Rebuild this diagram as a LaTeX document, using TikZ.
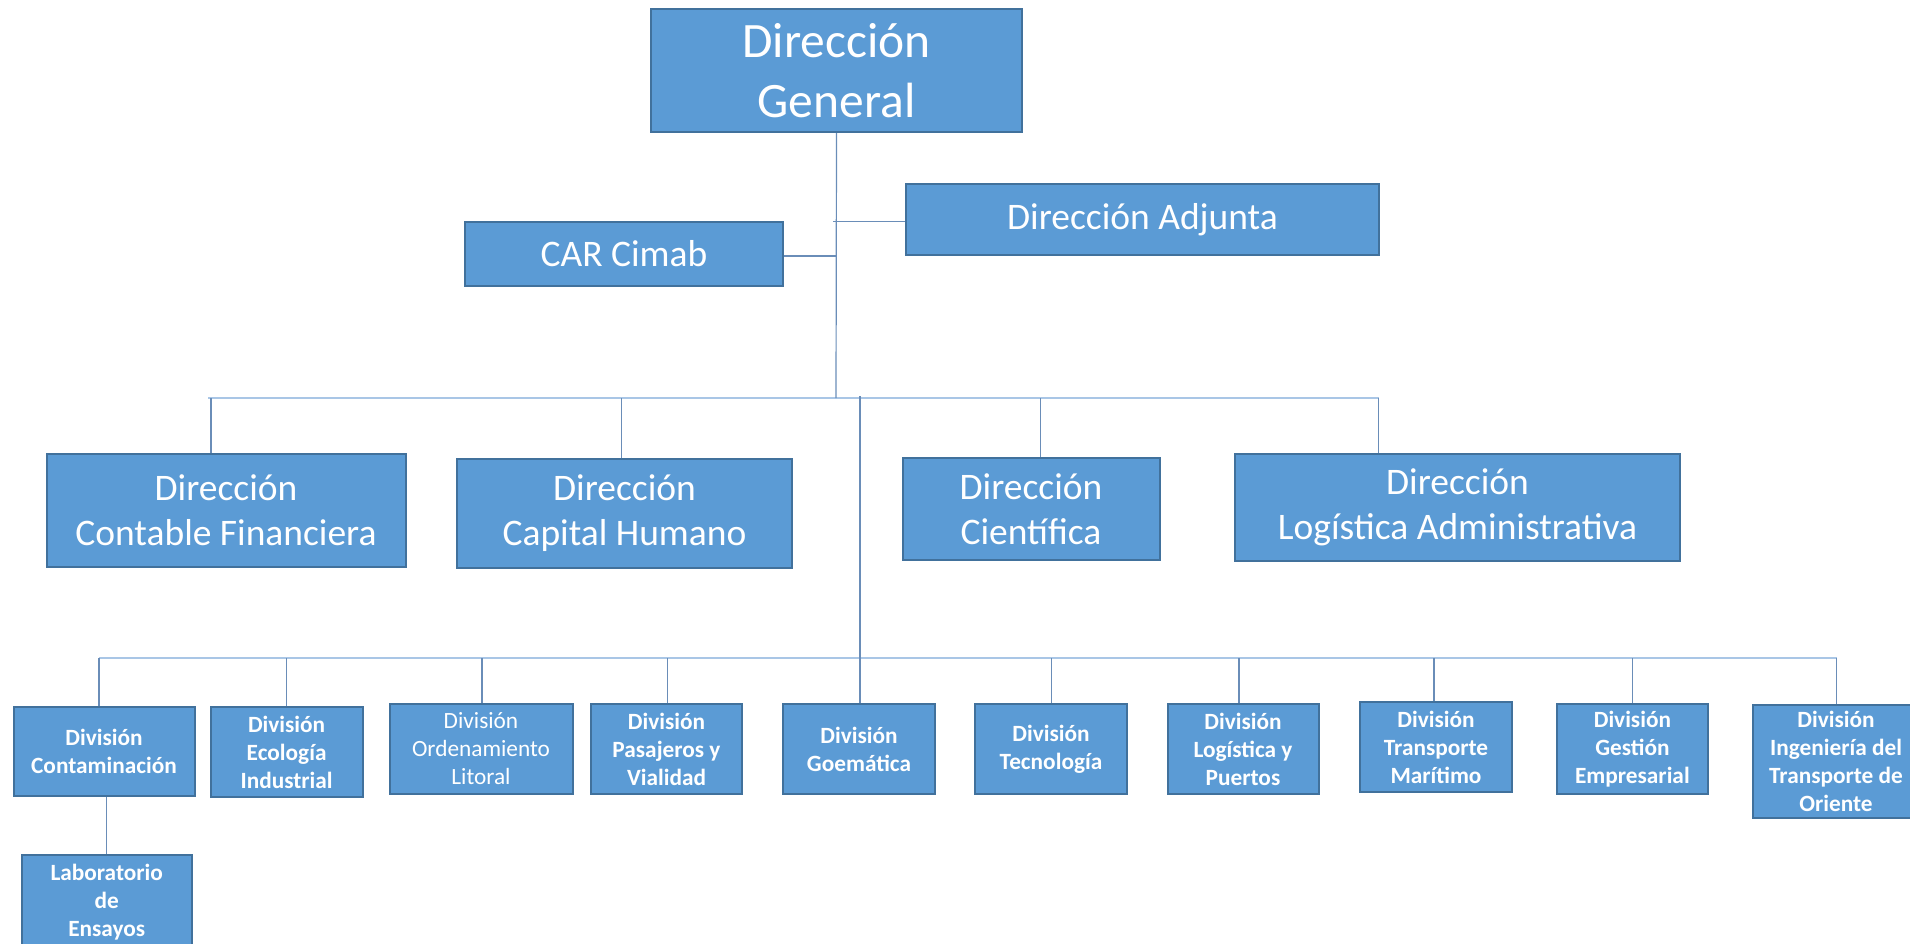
\documentclass[tikz,border=0pt]{standalone}
\usepackage{fontspec}
\setmainfont{Carlito}
\definecolor{boxfill}{HTML}{5B9BD5}
\definecolor{boxdraw}{HTML}{41719C}
\definecolor{linkc}{HTML}{6A8DB8}
\definecolor{barc}{HTML}{A9C6E6}
\begin{document}
\begin{tikzpicture}[x=1pt,y=-1pt,
  orgbox/.style={rectangle,draw=boxdraw,line width=2pt,fill=boxfill,text=white,inner sep=0pt,align=center},
  bigf/.style={font=\fontsize{49.5}{60}\selectfont},
  midf/.style={font=\fontsize{37.5}{45}\selectfont},
  divf/.style={font=\fontsize{23.3}{28}\selectfont\bfseries},
  divr/.style={font=\fontsize{23.3}{28}\selectfont},
  link/.style={draw=linkc,line width=1.2pt},
  bar/.style={draw=barc,line width=2.6pt}]
\useasboundingbox (0,0) rectangle (1910,943);
\clip (0,0) rectangle (1910,943);
% top level
\node[orgbox,bigf,minimum width=371,minimum height=123] (dg) at (836.5,70.5) {Dirección\\General};
\node[orgbox,midf,minimum width=473,minimum height=71] (adj) at (1142.5,219.5) {Dirección Adjunta};
\node[orgbox,midf,minimum width=318,minimum height=64] (car) at (624,253.5) {CAR Cimab};
% direcciones
\node[orgbox,midf,minimum width=359,minimum height=113] (cfin) at (226,510.5) {Dirección\\Contable Financiera};
\node[orgbox,midf,minimum width=335,minimum height=109] (chum) at (624.5,513.5) {Dirección\\Capital Humano};
\node[orgbox,midf,minimum width=257,minimum height=102] (cien) at (1031,509) {Dirección\\Científica};
\node[orgbox,midf,minimum width=445,minimum height=107] (ladm) at (1457.5,507.5) {Dirección\\Logística Administrativa};
% divisiones
\node[orgbox,divf,minimum width=181,minimum height=89] (ctn) at (104,751.5) {División\\Contaminación};
\node[orgbox,divf,minimum width=152,minimum height=90] (eco) at (286.6,752) {División\\Ecología\\Industrial};
\node[orgbox,divr,minimum width=183,minimum height=90] (ord) at (481,749) {División\\Ordenamiento\\Litoral};
\node[orgbox,divf,minimum width=151,minimum height=90] (pas) at (666.5,749) {División\\Pasajeros y\\Vialidad};
\node[orgbox,divf,minimum width=152,minimum height=90] (goe) at (859,749) {División\\Goemática};
\node[orgbox,divf,minimum width=152,minimum height=90] (tec) at (1051,749) {División\\Tecnología};
\node[orgbox,divf,minimum width=151,minimum height=90] (lpu) at (1243,749) {División\\Logística y\\Puertos};
\node[orgbox,divf,minimum width=152,minimum height=90] (tma) at (1436,747) {División\\Transporte\\Marítimo};
\node[orgbox,divf,minimum width=151,minimum height=90] (gem) at (1632.4,749) {División\\Gestión\\Empresarial};
\node[orgbox,divf,minimum width=166,minimum height=113.5] (ing) at (1836,761.7) {División\\Ingeniería del\\Transporte de\\Oriente};
\node[orgbox,divf,minimum width=170,minimum height=95] (lab) at (106.7,902.5) {Laboratorio\\de\\Ensayos};
% junction coordinates
\coordinate (ja) at (833,221.7);
\coordinate (jc) at (836,256);
\coordinate (tb1) at (208,398);
\coordinate (tb2) at (1379,398);
\coordinate (tbm) at (836,398);
\coordinate (v2) at (860,396);
\coordinate (bb1) at (99,658);
\coordinate (bb2) at (1836.7,658);
\coordinate (d1) at (211,398);
\coordinate (d2) at (621.5,398);
\coordinate (d3) at (1040.6,398);
\coordinate (d4) at (1378.6,398);
% bars
\draw[bar] (tb1) -- (tb2);
\draw[bar] (bb1) -- (bb2);
% trunk and side links
\draw[link] (dg.south) -- (tbm);
\draw[link] (ja) -- (ja -| adj.west);
\draw[link] (jc) -- (jc -| car.east);
\draw[link] (v2) -- (v2 |- goe.north);
% drops to direcciones
\draw[link] (d1) -- (d1 |- cfin.north);
\draw[link] (d2) -- (d2 |- chum.north);
\draw[link] (d3) -- (d3 |- cien.north);
\draw[link] (d4) -- (d4 |- ladm.north);
% drops to divisiones
\draw[link] ([xshift=-5pt]ctn.north) -- ([xshift=-5pt]ctn.north |- bb1);
\draw[link] (eco.north) -- (eco.north |- bb1);
\draw[link] ([xshift=1pt]ord.north) -- ([xshift=1pt]ord.north |- bb1);
\draw[link] ([xshift=1pt]pas.north) -- ([xshift=1pt]pas.north |- bb1);
\draw[link] ([xshift=0.7pt]tec.north) -- ([xshift=0.7pt]tec.north |- bb1);
\draw[link] ([xshift=-4pt]lpu.north) -- ([xshift=-4pt]lpu.north |- bb1);
\draw[link] ([xshift=-2pt]tma.north) -- ([xshift=-2pt]tma.north |- bb1);
\draw[link] (gem.north) -- (gem.north |- bb1);
\draw[link] ([xshift=0.7pt]ing.north) -- ([xshift=0.7pt]ing.north |- bb1);
\draw[link] (lab.north) -- (lab.north |- ctn.south);
\end{tikzpicture}
\end{document}
